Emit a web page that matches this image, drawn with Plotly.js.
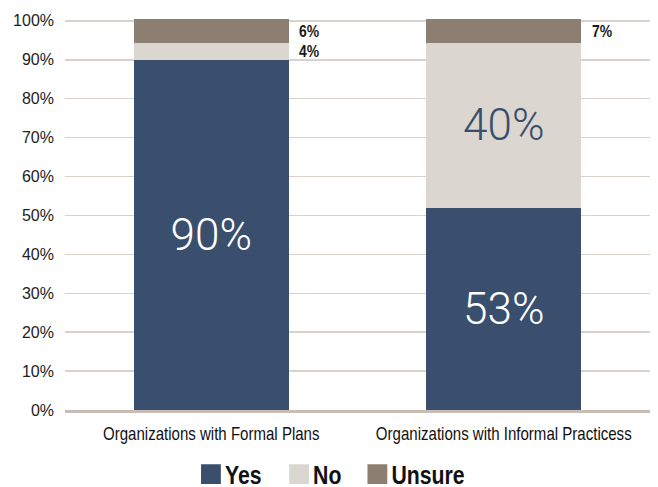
<!DOCTYPE html>
<html>
<head>
<meta charset="utf-8">
<script src="https://cdn.plot.ly/plotly-3.0.1.min.js"></script>
<style>
html,body{margin:0;padding:0;background:#fff;}
#chart{width:658px;height:487px;}
#chart text.annotation-text{transform-box:fill-box;transform-origin:0% 50%;transform:scaleX(0.82);}
</style>
</head>
<body>
<div id="chart"></div>
<script>
const categories = ["Organizations with Formal Plans", "Organizations with Informal Practicess"];
const yesVals = [90, 52];
const noVals = [4.3, 42.3];
const unsureVals = [6.2, 6.2];
const yesLabels = ["90%", "53%"];
const noLabels = ["4%", "40%"];
const unsureLabels = ["6%", "7%"];
const seriesNames = ["Yes", "No", "Unsure"];
const colors = ["#3a4f6e", "#dbd6d0", "#8c7f72"];
const insideTextColors = ["#ffffff", "#3a4f6e", "#ffffff"];
const yTicks = [0,10,20,30,40,50,60,70,80,90,100];
const yTickText = yTicks.map(v => v + "%");

const valueSets = [yesVals, noVals, unsureVals];
const labelSets = [yesLabels, noLabels, unsureLabels];
const INSIDE_MIN = 20;
const ARIAL = "Liberation Sans, Arial, sans-serif";

const traces = valueSets.map((vals, i) => ({
  type: "bar",
  name: seriesNames[i],
  x: categories,
  y: vals,
  marker: {color: colors[i]},
  text: vals.map((v, j) => v >= INSIDE_MIN ? labelSets[i][j] : ""),
  textposition: "inside",
  insidetextanchor: "middle",
  textangle: 0,
  textfont: {family: "Roboto", size: 44, color: insideTextColors[i], weight: 300},
  hoverinfo: "none"
}));

const annotations = [];
valueSets.forEach((vals, i) => {
  vals.forEach((v, j) => {
    if (v < INSIDE_MIN) {
      let base = 0;
      for (let k = 0; k < i; k++) base += valueSets[k][j];
      annotations.push({
        x: categories[j], y: base + v / 2, xref: "x", yref: "y",
        text: labelSets[i][j], showarrow: false,
        xanchor: "left", yanchor: "middle", xshift: 86,
        font: {family: ARIAL, size: 17, color: "#1a1a1a", weight: "bold"}
      });
    }
  });
});

const layout = {
  width: 658, height: 487,
  margin: {l: 65, r: 8, t: 17, b: 77, autoexpand: false},
  paper_bgcolor: "#ffffff", plot_bgcolor: "#ffffff",
  barmode: "stack",
  bargap: 0.47,
  showlegend: true,
  legend: {
    orientation: "h", x: 0.47, xanchor: "center",
    yref: "container", y: 0.026, yanchor: "middle",
    font: {family: ARIAL, size: 25, color: "#111", weight: "bold"},
    traceorder: "normal", itemwidth: 30
  },
  xaxis: {
    type: "category",
    showgrid: false,
    showline: true, linecolor: "#c7bdb4", linewidth: 3,
    ticks: "",
    tickfont: {family: ARIAL, size: 17.5, color: "#111"},
    ticklabelstandoff: 6,
    fixedrange: true
  },
  yaxis: {
    range: [0, 101],
    tickvals: yTicks, ticktext: yTickText,
    showgrid: true, gridcolor: "#d9d2cc", gridwidth: 1.5,
    zeroline: false, showline: false, ticks: "",
    tickfont: {family: ARIAL, size: 16, color: "#222"},
    ticklabelstandoff: 10,
    fixedrange: true
  },
  annotations: annotations,
  font: {family: ARIAL}
};

function squeeze(el, sx, shift) {
  const cx = parseFloat(el.getAttribute("x")) || 0;
  const base = el.getAttribute("transform") || "";
  el.setAttribute("transform", base + " translate(" + (cx + (shift || 0)) + ",0) scale(" + sx + ",1) translate(" + (-cx) + ",0)");
}

function restyleText(gd) {
  gd.querySelectorAll(".xtick text").forEach(t => squeeze(t, 0.86, 0));
  gd.querySelectorAll(".legend text.legendtext").forEach(t => squeeze(t, 0.85, -6));
  gd.querySelectorAll(".legend .legendpoints path").forEach(p => {
    const base = p.getAttribute("transform") || "";
    p.setAttribute("transform", base + " scale(1.65)");
  });
}

Plotly.newPlot("chart", traces, layout, {displayModeBar: false, staticPlot: true}).then(restyleText);
</script>
</body>
</html>
